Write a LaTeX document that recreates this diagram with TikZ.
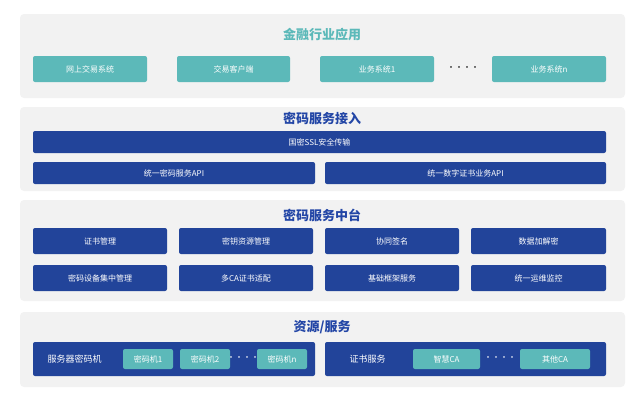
\documentclass[tikz,border=0pt]{standalone}
\usepackage{fontspec}
\setmainfont{Noto Sans CJK SC}
\definecolor{tealbox}{HTML}{5CB9B9}
\definecolor{navybox}{HTML}{22449A}
\definecolor{panelbg}{HTML}{F2F2F2}
\definecolor{titleblue}{HTML}{2346A6}

\begin{document}
\begin{tikzpicture}[x=1pt, y=-1pt,
        panel/.style={fill=panelbg, rounded corners=4pt, draw=none},
        title/.style={font=\fontsize{13}{15}\selectfont\bfseries},
        app/.style={fill=tealbox, rounded corners=2pt, text=white, minimum height=26pt, font=\fontsize{8}{10}\selectfont},
        svc/.style={fill=navybox, rounded corners=2pt, text=white, minimum height=22pt, font=\fontsize{8}{10}\selectfont},
        res/.style={fill=tealbox, rounded corners=2pt, text=white, minimum height=20pt, font=\fontsize{8}{10}\selectfont},
        dots/.style={font=\fontsize{8}{10}\selectfont}
    ]
    \useasboundingbox (0,0) rectangle (640,400);
    % panels
    \fill[panel] (20,14) rectangle (625,98);
    \fill[panel] (20,107) rectangle (625,191);
    \fill[panel] (20,200) rectangle (625,301);
    \fill[panel] (20,312) rectangle (625,387);
    % application layer
    \node[title, text=tealbox] (t1) at (322,35) {金融行业应用};
    \node[app, minimum width=114pt] (a1) at (90,69) {网上交易系统};
    \node[app, minimum width=113pt] (a2) at (233.5,69) {交易客户端};
    \node[app, minimum width=114pt] (a3) at (377,69) {业务系统1};
    \node[dots] (d1) at (463,69) {····};
    \node[app, minimum width=114pt] (a4) at (549,69) {业务系统n};
    % access layer
    \node[title, text=titleblue] (t2) at (322,118) {密码服务接入};
    \node[svc, minimum width=573pt] (b1) at (319.5,142) {国密SSL安全传输};
    \node[svc, minimum width=282pt] (b2) at (174,173) {统一密码服务API};
    \node[svc, minimum width=281pt] (b3) at (465.5,173) {统一数字证书业务API};
    % middle platform
    \node[title, text=titleblue] (t3) at (322,215) {密码服务中台};
    \node[svc, minimum width=134pt, minimum height=26pt] (c1) at (100,241) {证书管理};
    \node[svc, minimum width=134pt, minimum height=26pt] (c2) at (246,241) {密钥资源管理};
    \node[svc, minimum width=134pt, minimum height=26pt] (c3) at (392,241) {协同签名};
    \node[svc, minimum width=135pt, minimum height=26pt] (c4) at (538.5,241) {数据加解密};
    \node[svc, minimum width=134pt, minimum height=26pt] (c5) at (100,278) {密码设备集中管理};
    \node[svc, minimum width=134pt, minimum height=26pt] (c6) at (246,278) {多CA证书适配};
    \node[svc, minimum width=134pt, minimum height=26pt] (c7) at (392,278) {基础框架服务};
    \node[svc, minimum width=135pt, minimum height=26pt] (c8) at (538.5,278) {统一运维监控};
    % resources
    \node[title, text=titleblue] (t4) at (322,327) {资源/服务};
    \node[svc, minimum width=282pt, minimum height=34pt] (r1) at (174,359) {};
    \node[svc, minimum width=281pt, minimum height=34pt] (r2) at (465.5,359) {};
    \node[text=white, anchor=west, font=\fontsize{9}{11}\selectfont] (r1t) at (44,359) {服务器密码机};
    \node[res, minimum width=50pt] (m1) at (148,359) {密码机1};
    \node[res, minimum width=50pt] (m2) at (205,359) {密码机2};
    \node[dots, text=white] (d2) at (243,359) {····};
    \node[res, minimum width=50pt] (m3) at (282,359) {密码机n};
    \node[text=white, anchor=west, font=\fontsize{9}{11}\selectfont] (r2t) at (346,359) {证书服务};
    \node[res, minimum width=67pt] (ca1) at (446.5,359) {智慧CA};
    \node[dots, text=white] (d3) at (500,359) {····};
    \node[res, minimum width=70pt] (ca2) at (555,359) {其他CA};
\end{tikzpicture}
\end{document}
